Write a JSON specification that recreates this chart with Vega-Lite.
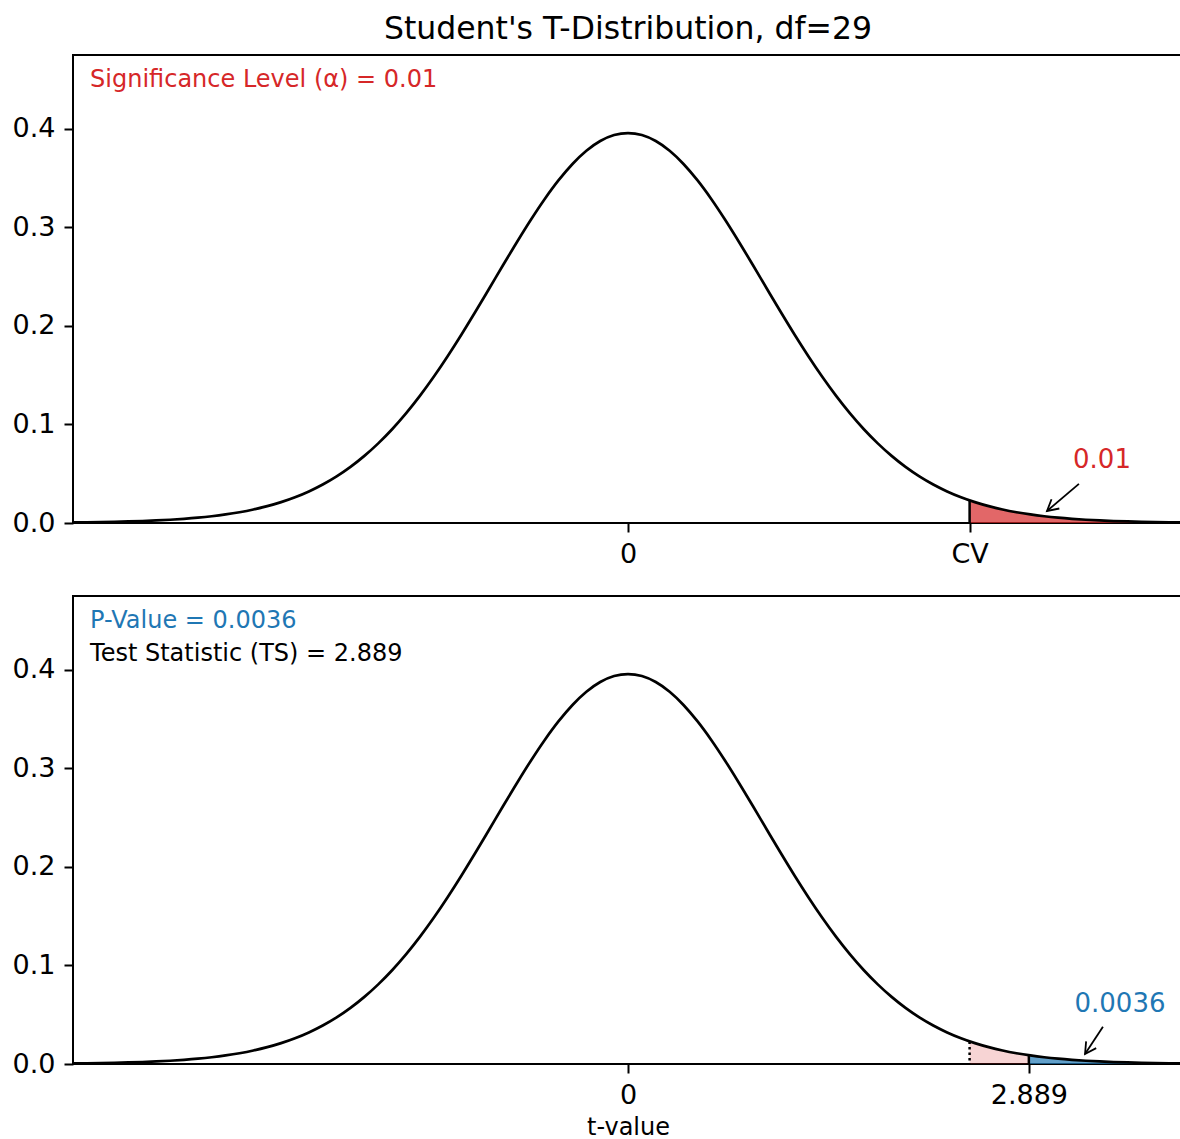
{
  "$schema": "https://vega.github.io/schema/vega-lite/v6.json",
  "padding": {"left": 5, "top": 12, "right": 0, "bottom": 0},
  "bounds": "flush",
  "spacing": 73,
  "config": {
    "font": "DejaVu Sans",
    "view": {"stroke": "black", "strokeWidth": 2},
    "axis": {"domain": false, "grid": false, "tickColor": "black", "tickWidth": 2, "tickSize": 9, "labelFontSize": 27, "labelColor": "black", "labelPadding": 9, "labelFont": "DejaVu Sans", "titleFont": "DejaVu Sans", "titleFontWeight": "normal", "titleColor": "black", "titleFontSize": 24},
    "title": {"font": "DejaVu Sans", "fontSize": 31.5, "fontWeight": "normal", "color": "black", "anchor": "middle", "offset": 10}
  },
  "datasets": {
    "curve": [
      {"t": -4.0, "pdf": 0.00054}, {"t": -3.9, "pdf": 0.00071}, {"t": -3.8, "pdf": 0.00092}, {"t": -3.7, "pdf": 0.0012}, {"t": -3.6, "pdf": 0.00155},
      {"t": -3.5, "pdf": 0.002}, {"t": -3.4, "pdf": 0.00258}, {"t": -3.3, "pdf": 0.00331}, {"t": -3.2, "pdf": 0.00424}, {"t": -3.1, "pdf": 0.0054},
      {"t": -3.0, "pdf": 0.00686}, {"t": -2.9, "pdf": 0.00868}, {"t": -2.8, "pdf": 0.01092}, {"t": -2.7, "pdf": 0.01369}, {"t": -2.6, "pdf": 0.01707},
      {"t": -2.5, "pdf": 0.02117}, {"t": -2.4, "pdf": 0.02612}, {"t": -2.3, "pdf": 0.03204}, {"t": -2.2, "pdf": 0.03906}, {"t": -2.1, "pdf": 0.0473},
      {"t": -2.0, "pdf": 0.05691}, {"t": -1.9, "pdf": 0.06806}, {"t": -1.8, "pdf": 0.08076}, {"t": -1.7, "pdf": 0.09511}, {"t": -1.6, "pdf": 0.11119},
      {"t": -1.5, "pdf": 0.12894}, {"t": -1.4, "pdf": 0.14828}, {"t": -1.3, "pdf": 0.16913}, {"t": -1.2, "pdf": 0.19119}, {"t": -1.1, "pdf": 0.21422},
      {"t": -1.0, "pdf": 0.23786}, {"t": -0.9, "pdf": 0.26164}, {"t": -0.8, "pdf": 0.28508}, {"t": -0.7, "pdf": 0.30762}, {"t": -0.6, "pdf": 0.32871},
      {"t": -0.5, "pdf": 0.34774}, {"t": -0.4, "pdf": 0.36419}, {"t": -0.3, "pdf": 0.37756}, {"t": -0.2, "pdf": 0.38743}, {"t": -0.1, "pdf": 0.39348},
      {"t": 0.0, "pdf": 0.39552},
      {"t": 0.1, "pdf": 0.39348}, {"t": 0.2, "pdf": 0.38743}, {"t": 0.3, "pdf": 0.37756}, {"t": 0.4, "pdf": 0.36419}, {"t": 0.5, "pdf": 0.34774},
      {"t": 0.6, "pdf": 0.32871}, {"t": 0.7, "pdf": 0.30762}, {"t": 0.8, "pdf": 0.28508}, {"t": 0.9, "pdf": 0.26164}, {"t": 1.0, "pdf": 0.23786},
      {"t": 1.1, "pdf": 0.21422}, {"t": 1.2, "pdf": 0.19119}, {"t": 1.3, "pdf": 0.16913}, {"t": 1.4, "pdf": 0.14828}, {"t": 1.5, "pdf": 0.12894},
      {"t": 1.6, "pdf": 0.11119}, {"t": 1.7, "pdf": 0.09511}, {"t": 1.8, "pdf": 0.08076}, {"t": 1.9, "pdf": 0.06806}, {"t": 2.0, "pdf": 0.05691},
      {"t": 2.1, "pdf": 0.0473}, {"t": 2.2, "pdf": 0.03906}, {"t": 2.3, "pdf": 0.03204}, {"t": 2.4, "pdf": 0.02612}, {"t": 2.5, "pdf": 0.02117},
      {"t": 2.6, "pdf": 0.01707}, {"t": 2.7, "pdf": 0.01369}, {"t": 2.8, "pdf": 0.01092}, {"t": 2.9, "pdf": 0.00868}, {"t": 3.0, "pdf": 0.00686},
      {"t": 3.1, "pdf": 0.0054}, {"t": 3.2, "pdf": 0.00424}, {"t": 3.3, "pdf": 0.00331}, {"t": 3.4, "pdf": 0.00258}, {"t": 3.5, "pdf": 0.002},
      {"t": 3.6, "pdf": 0.00155}, {"t": 3.7, "pdf": 0.0012}, {"t": 3.8, "pdf": 0.00092}, {"t": 3.9, "pdf": 0.00071}, {"t": 4.0, "pdf": 0.00054}
    ],
    "alphaTail": [
      {"t": 2.462, "pdf": 0.02294}, {"t": 2.5, "pdf": 0.02117}, {"t": 2.6, "pdf": 0.01707}, {"t": 2.7, "pdf": 0.01369}, {"t": 2.8, "pdf": 0.01092},
      {"t": 2.9, "pdf": 0.00868}, {"t": 3.0, "pdf": 0.00686}, {"t": 3.1, "pdf": 0.0054}, {"t": 3.2, "pdf": 0.00424}, {"t": 3.3, "pdf": 0.00331},
      {"t": 3.4, "pdf": 0.00258}, {"t": 3.5, "pdf": 0.002}, {"t": 3.6, "pdf": 0.00155}, {"t": 3.7, "pdf": 0.0012}, {"t": 3.8, "pdf": 0.00092},
      {"t": 3.9, "pdf": 0.00071}, {"t": 4.0, "pdf": 0.00054}
    ],
    "cvToTs": [
      {"t": 2.462, "pdf": 0.02294}, {"t": 2.5, "pdf": 0.02117}, {"t": 2.6, "pdf": 0.01707}, {"t": 2.7, "pdf": 0.01369}, {"t": 2.8, "pdf": 0.01092},
      {"t": 2.889, "pdf": 0.0089}
    ],
    "pTail": [
      {"t": 2.889, "pdf": 0.0089}, {"t": 2.9, "pdf": 0.00868}, {"t": 3.0, "pdf": 0.00686}, {"t": 3.1, "pdf": 0.0054}, {"t": 3.2, "pdf": 0.00424},
      {"t": 3.3, "pdf": 0.00331}, {"t": 3.4, "pdf": 0.00258}, {"t": 3.5, "pdf": 0.002}, {"t": 3.6, "pdf": 0.00155}, {"t": 3.7, "pdf": 0.0012},
      {"t": 3.8, "pdf": 0.00092}, {"t": 3.9, "pdf": 0.00071}, {"t": 4.0, "pdf": 0.00054}
    ],
    "cv": [{"t": 2.462, "pdf": 0.02294}],
    "ts": [{"t": 2.889, "pdf": 0.0089}],
    "one": [{}]
  },
  "vconcat": [
    {
      "width": 1110,
      "height": 468,
      "title": {"text": "Student's T-Distribution, df=29"},
      "encoding": {
        "x": {"type": "quantitative", "scale": {"domain": [-4, 4], "nice": false}, "axis": {"values": [0, 2.462], "labelExpr": "datum.value == 0 ? '0' : 'CV'", "title": null}},
        "y": {"type": "quantitative", "scale": {"domain": [0, 0.4747], "nice": false}, "axis": {"values": [0, 0.1, 0.2, 0.3, 0.4], "format": ".1f", "title": null, "minExtent": 67, "maxExtent": 67}}
      },
      "layer": [
        {"data": {"name": "alphaTail"}, "mark": {"type": "area", "color": "#d62728", "opacity": 0.7},
         "encoding": {"x": {"field": "t", "type": "quantitative"}, "y": {"field": "pdf", "type": "quantitative"}}},
        {"data": {"name": "curve"}, "mark": {"type": "line", "color": "black", "strokeWidth": 2.7, "interpolate": "monotone"},
         "encoding": {"x": {"field": "t", "type": "quantitative"}, "y": {"field": "pdf", "type": "quantitative"}}},
        {"data": {"name": "cv"}, "mark": {"type": "rule", "color": "black", "strokeWidth": 2.5},
         "encoding": {"x": {"field": "t", "type": "quantitative"}, "y": {"field": "pdf", "type": "quantitative"}, "y2": {"datum": 0}}},
        {"data": {"name": "one"}, "mark": {"type": "text", "text": "Significance Level (α) = 0.01", "align": "left", "baseline": "middle", "fontSize": 24, "color": "#d62728"},
         "encoding": {"x": {"datum": -3.877}, "y": {"datum": 0.449}}},
        {"data": {"name": "one"}, "mark": {"type": "text", "text": "0.01", "align": "center", "baseline": "middle", "fontSize": 26, "color": "#d62728"},
         "encoding": {"x": {"datum": 3.416}, "y": {"datum": 0.0641}}},
        {"data": {"name": "one"}, "mark": {"type": "rule", "color": "black", "strokeWidth": 1.8},
         "encoding": {"x": {"datum": 3.25}, "y": {"datum": 0.0397}, "x2": {"datum": 3.02}, "y2": {"datum": 0.0122}}},
        {"data": {"name": "one"}, "mark": {"type": "point", "shape": "M -1 -0.55 L 0 0 L -1 0.55", "size": 484, "filled": false, "stroke": "black", "strokeWidth": 1.8, "opacity": 1, "angle": 139.8},
         "encoding": {"x": {"datum": 3.02}, "y": {"datum": 0.0122}}}
      ]
    },
    {
      "width": 1110,
      "height": 468,
      "encoding": {
        "x": {"type": "quantitative", "scale": {"domain": [-4, 4], "nice": false}, "axis": {"values": [0, 2.889], "labelExpr": "datum.value == 0 ? '0' : '2.889'", "title": "t-value", "titlePadding": 7}},
        "y": {"type": "quantitative", "scale": {"domain": [0, 0.4747], "nice": false}, "axis": {"values": [0, 0.1, 0.2, 0.3, 0.4], "format": ".1f", "title": null, "minExtent": 67, "maxExtent": 67}}
      },
      "layer": [
        {"data": {"name": "cvToTs"}, "mark": {"type": "area", "color": "#d62728", "opacity": 0.2},
         "encoding": {"x": {"field": "t", "type": "quantitative"}, "y": {"field": "pdf", "type": "quantitative"}}},
        {"data": {"name": "pTail"}, "mark": {"type": "area", "color": "#1f77b4", "opacity": 0.7},
         "encoding": {"x": {"field": "t", "type": "quantitative"}, "y": {"field": "pdf", "type": "quantitative"}}},
        {"data": {"name": "curve"}, "mark": {"type": "line", "color": "black", "strokeWidth": 2.7, "interpolate": "monotone"},
         "encoding": {"x": {"field": "t", "type": "quantitative"}, "y": {"field": "pdf", "type": "quantitative"}}},
        {"data": {"name": "cv"}, "mark": {"type": "rule", "color": "black", "strokeWidth": 2.5, "strokeDash": [2.5, 3]},
         "encoding": {"x": {"field": "t", "type": "quantitative"}, "y": {"field": "pdf", "type": "quantitative"}, "y2": {"datum": 0}}},
        {"data": {"name": "ts"}, "mark": {"type": "rule", "color": "black", "strokeWidth": 2.5},
         "encoding": {"x": {"field": "t", "type": "quantitative"}, "y": {"field": "pdf", "type": "quantitative"}, "y2": {"datum": 0}}},
        {"data": {"name": "one"}, "mark": {"type": "text", "text": "P-Value = 0.0036", "align": "left", "baseline": "middle", "fontSize": 24, "color": "#1f77b4"},
         "encoding": {"x": {"datum": -3.877}, "y": {"datum": 0.449}}},
        {"data": {"name": "one"}, "mark": {"type": "text", "text": "Test Statistic (TS) = 2.889", "align": "left", "baseline": "middle", "fontSize": 24, "color": "black"},
         "encoding": {"x": {"datum": -3.877}, "y": {"datum": 0.416}}},
        {"data": {"name": "one"}, "mark": {"type": "text", "text": "0.0036", "align": "center", "baseline": "middle", "fontSize": 26, "color": "#1f77b4"},
         "encoding": {"x": {"datum": 3.546}, "y": {"datum": 0.0611}}},
        {"data": {"name": "one"}, "mark": {"type": "rule", "color": "black", "strokeWidth": 1.8},
         "encoding": {"x": {"datum": 3.423}, "y": {"datum": 0.0377}, "x2": {"datum": 3.294}, "y2": {"datum": 0.0102}}},
        {"data": {"name": "one"}, "mark": {"type": "point", "shape": "M -1 -0.55 L 0 0 L -1 0.55", "size": 484, "filled": false, "stroke": "black", "strokeWidth": 1.8, "opacity": 1, "angle": 123.7},
         "encoding": {"x": {"datum": 3.294}, "y": {"datum": 0.0102}}}
      ]
    }
  ]
}
